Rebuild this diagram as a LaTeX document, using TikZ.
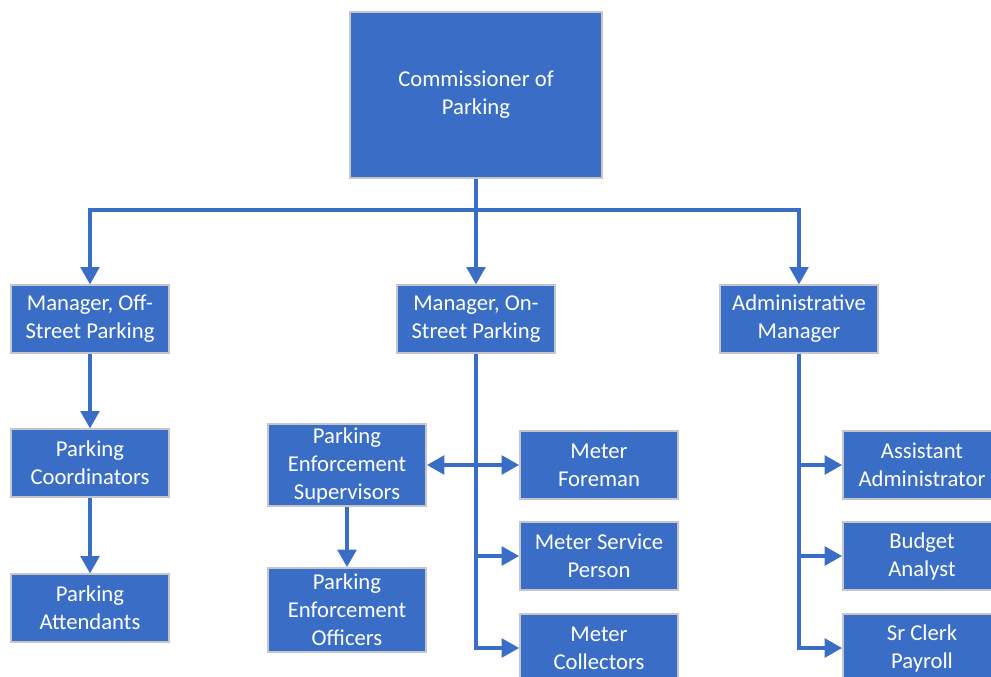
\documentclass[tikz,border=0pt]{standalone}
\usepackage{fontspec}
\setmainfont{Carlito}
\usetikzlibrary{arrows.meta}
\definecolor{boxblue}{RGB}{58,110,198}
\definecolor{boxrim}{RGB}{196,198,204}
\tikzset{
  post/.style={
    draw=boxrim,
    line width=1.4pt,
    fill=boxblue,
    text=white,
    align=center,
    inner sep=0pt,
    minimum width=118.5pt,
    minimum height=50.5pt,
    font=\fontsize{17}{21}\selectfont
  },
  wire/.style={draw=boxblue, line width=2.5pt},
  link/.style={wire, -{Triangle[length=13pt,width=14pt]}}
}

\begin{document}
\begin{tikzpicture}[x=0.75pt, y=-0.75pt]
      \useasboundingbox (0,0) rectangle (991,676);
      % top of the tree
      \node[post, minimum width=189pt, minimum height=124.5pt] (boss) at (476,95) {Commissioner of\\ Parking};
      \coordinate (fork) at (476,210);

      \node[post] (offstreet) at (90,319) {Manager, Off-\\ Street Parking};
      \node[post] (onstreet) at (476,319) {Manager, On-\\ Street Parking};
      \node[post] (adminmgr) at (799,319) {Administrative\\ Manager};

      \draw[wire] (boss.south) -- (fork);
      \draw[link] (fork) -| (offstreet.north);
      \draw[link] (fork) -- (onstreet.north);
      \draw[link] (fork) -| (adminmgr.north);

      % off-street column
      \node[post] (coord) at (90,463) {Parking\\ Coordinators};
      \node[post] (attend) at (90,608) {Parking\\ Attendants};
        \draw[link] (offstreet.south) -- (coord.north);
        \draw[link] (coord.south) -- (attend.north);

      % on-street column
      \node[post, minimum height=62pt] (enfsup) at (347,465) {Parking\\ Enforcement\\ Supervisors};
      \node[post, minimum height=63pt] (enfoff) at (347,610) {Parking\\ Enforcement\\ Officers};
      \node[post] (foreman) at (599,465) {Meter\\ Foreman};
      \node[post] (service) at (599,556) {Meter Service\\ Person};
      \node[post] (collect) at (599,648) {Meter\\ Collectors};
        \draw[link] (onstreet.south) |- (collect.west);
        \draw[link] (onstreet.south |- foreman) -- (foreman.west);
        \draw[link] (onstreet.south |- enfsup) -- (enfsup.east);
        \draw[link] (onstreet.south |- service) -- (service.west);
        \draw[link] (enfsup.south) -- (enfoff.north);

      % administration column
      \node[post] (asst) at (922,465) {Assistant\\ Administrator};
      \node[post] (budget) at (922,556) {Budget\\ Analyst};
      \node[post] (clerk) at (922,648) {Sr Clerk\\ Payroll};
        \draw[link] (adminmgr.south) |- (clerk.west);
        \draw[link] (adminmgr.south |- asst) -- (asst.west);
        \draw[link] (adminmgr.south |- budget) -- (budget.west);
\end{tikzpicture}
\end{document}
